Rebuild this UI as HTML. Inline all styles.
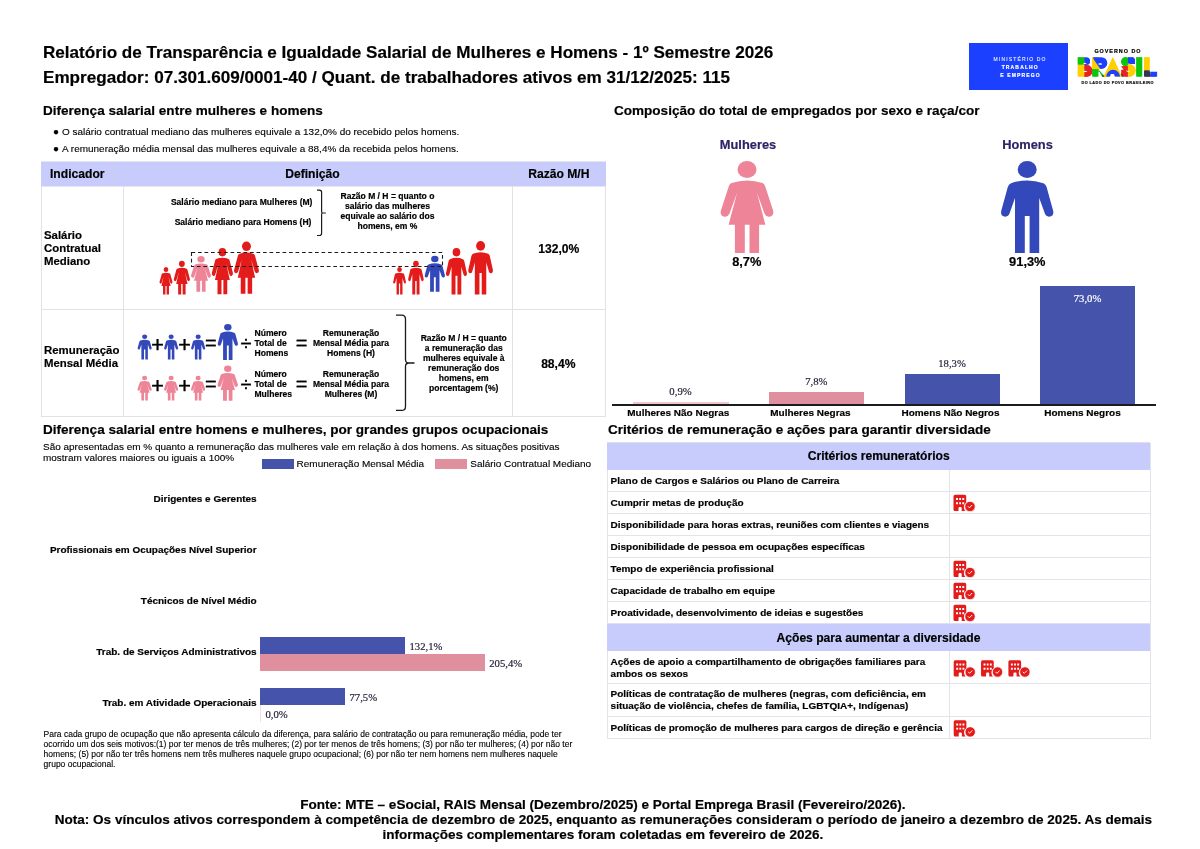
<!DOCTYPE html>
<html lang="pt-BR">
<head>
<meta charset="utf-8">
<title>Relatório de Transparência e Igualdade Salarial</title>
<style>
html,body{margin:0;padding:0;background:#fff}
#pg{position:relative;width:1200px;height:849px;overflow:hidden;background:#fff;font-family:"Liberation Sans",Arial,sans-serif;color:#000}
.t{position:absolute;white-space:nowrap;line-height:1;margin:0;padding:0}
.b{font-weight:700;-webkit-text-stroke:0.18px currentColor}.r{font-weight:400;-webkit-text-stroke:0.12px currentColor}
.f{font-family:"Liberation Serif","Times New Roman",serif;font-weight:400}
.bx{position:absolute}
#ov{position:absolute;left:0;top:0;width:1200px;height:849px;overflow:visible}
</style>
</head>
<body>
<div id="pg">
<div class="t b" style="left:43.00px;top:44.01px;font-size:17.10px">Relatório de Transparência e Igualdade Salarial de Mulheres e Homens - 1º Semestre 2026</div>
<div class="t b" style="left:43.00px;top:68.51px;font-size:17.10px">Empregador: 07.301.609/0001-40 / Quant. de trabalhadores ativos em 31/12/2025: 115</div>
<div class="t b" style="left:43.00px;top:104.01px;font-size:13.54px">Diferença salarial entre mulheres e homens</div>
<div class="t b" style="left:614.00px;top:104.01px;font-size:13.54px">Composição do total de empregados por sexo e raça/cor</div>
<div class="t r bl" style="left:53.00px;top:127.30px;font-size:9.97px">●</div>
<div class="t r" style="left:62.00px;top:127.30px;font-size:9.97px">O salário contratual mediano das mulheres equivale a 132,0% do recebido pelos homens.</div>
<div class="t r bl" style="left:53.00px;top:143.80px;font-size:9.97px">●</div>
<div class="t r" style="left:62.00px;top:143.80px;font-size:9.97px">A remuneração média mensal das mulheres equivale a 88,4% da recebida pelos homens.</div>
<div class="bx" style="left:41.00px;top:161.00px;width:565.00px;height:25.50px;background:#e6e6ee;"></div>
<div class="bx" style="left:41.00px;top:161.60px;width:565.00px;height:24.40px;background:#c7ccfc;"></div>
<div class="bx" style="left:112.20px;top:161.60px;width:1.00px;height:24.40px;background:#cbcee9;"></div>
<div class="bx" style="left:512.00px;top:161.60px;width:1.00px;height:24.40px;background:#cbcee9;"></div>
<div class="bx" style="left:41.00px;top:186.00px;width:1.00px;height:230.50px;background:#e2e2e2;"></div>
<div class="bx" style="left:123.00px;top:186.00px;width:1.00px;height:230.50px;background:#e2e2e2;"></div>
<div class="bx" style="left:512.00px;top:186.00px;width:1.00px;height:230.50px;background:#e2e2e2;"></div>
<div class="bx" style="left:605.00px;top:186.00px;width:1.00px;height:230.50px;background:#e2e2e2;"></div>
<div class="bx" style="left:41.00px;top:309.00px;width:565.00px;height:1.00px;background:#e2e2e2;"></div>
<div class="bx" style="left:41.00px;top:416.00px;width:565.00px;height:1.00px;background:#e2e2e2;"></div>
<div class="t b" style="left:50.00px;top:167.80px;font-size:12.11px">Indicador</div>
<div class="t b" style="left:285.24px;top:167.80px;font-size:12.11px">Definição</div>
<div class="t b" style="left:528.18px;top:167.80px;font-size:12.11px">Razão M/H</div>
<div class="t b" style="left:44.00px;top:230.31px;font-size:11.40px">Salário</div>
<div class="t b" style="left:44.00px;top:243.31px;font-size:11.40px">Contratual</div>
<div class="t b" style="left:44.00px;top:256.31px;font-size:11.40px">Mediano</div>
<div class="t b" style="left:44.00px;top:345.31px;font-size:11.40px">Remuneração</div>
<div class="t b" style="left:44.00px;top:358.31px;font-size:11.40px">Mensal Média</div>
<div class="t b" style="left:538.26px;top:243.00px;font-size:12.11px">132,0%</div>
<div class="t b" style="left:541.13px;top:358.00px;font-size:12.11px">88,4%</div>
<div class="t b" style="left:170.92px;top:198.01px;font-size:8.55px">Salário mediano para Mulheres (M)</div>
<div class="t b" style="left:174.67px;top:218.01px;font-size:8.55px">Salário mediano para Homens (H)</div>
<div class="t b" style="left:340.59px;top:192.32px;font-size:8.55px">Razão M / H = quanto o</div>
<div class="t b" style="left:344.97px;top:202.32px;font-size:8.55px">salário das mulheres</div>
<div class="t b" style="left:340.46px;top:212.32px;font-size:8.55px">equivale ao salário dos</div>
<div class="t b" style="left:357.57px;top:222.32px;font-size:8.55px">homens, em %</div>
<div class="t b" style="left:254.50px;top:329.21px;font-size:8.55px">Número</div>
<div class="t b" style="left:254.50px;top:339.10px;font-size:8.55px">Total de</div>
<div class="t b" style="left:254.50px;top:349.01px;font-size:8.55px">Homens</div>
<div class="t b" style="left:254.50px;top:370.41px;font-size:8.55px">Número</div>
<div class="t b" style="left:254.50px;top:380.32px;font-size:8.55px">Total de</div>
<div class="t b" style="left:254.50px;top:390.21px;font-size:8.55px">Mulheres</div>
<div class="t b" style="left:322.73px;top:329.21px;font-size:8.55px">Remuneração</div>
<div class="t b" style="left:312.99px;top:339.10px;font-size:8.55px">Mensal Média para</div>
<div class="t b" style="left:327.01px;top:349.01px;font-size:8.55px">Homens (H)</div>
<div class="t b" style="left:322.73px;top:370.41px;font-size:8.55px">Remuneração</div>
<div class="t b" style="left:312.99px;top:380.32px;font-size:8.55px">Mensal Média para</div>
<div class="t b" style="left:324.64px;top:390.21px;font-size:8.55px">Mulheres (M)</div>
<div class="t b" style="left:420.64px;top:334.41px;font-size:8.55px">Razão M / H = quanto</div>
<div class="t b" style="left:424.78px;top:344.29px;font-size:8.55px">a remuneração das</div>
<div class="t b" style="left:422.88px;top:354.15px;font-size:8.55px">mulheres equivale à</div>
<div class="t b" style="left:428.11px;top:364.02px;font-size:8.55px">remuneração dos</div>
<div class="t b" style="left:438.81px;top:373.90px;font-size:8.55px">homens, em</div>
<div class="t b" style="left:429.07px;top:383.76px;font-size:8.55px">porcentagem (%)</div>
<div class="t r" style="left:151.29px;top:333.91px;font-size:21.60px;-webkit-text-stroke:0.40px #000">+</div>
<div class="t r" style="left:178.29px;top:333.91px;font-size:21.60px;-webkit-text-stroke:0.40px #000">+</div>
<div class="t r" style="left:204.96px;top:332.90px;font-size:20.00px;-webkit-text-stroke:0.35px #000">=</div>
<div class="t r" style="left:240.51px;top:333.01px;font-size:20.00px;-webkit-text-stroke:0.35px #000">÷</div>
<div class="t r" style="left:295.76px;top:332.90px;font-size:20.00px;-webkit-text-stroke:0.35px #000">=</div>
<div class="t r" style="left:151.29px;top:375.00px;font-size:21.60px;-webkit-text-stroke:0.40px #000">+</div>
<div class="t r" style="left:178.29px;top:375.00px;font-size:21.60px;-webkit-text-stroke:0.40px #000">+</div>
<div class="t r" style="left:204.96px;top:374.01px;font-size:20.00px;-webkit-text-stroke:0.35px #000">=</div>
<div class="t r" style="left:240.51px;top:374.11px;font-size:20.00px;-webkit-text-stroke:0.35px #000">÷</div>
<div class="t r" style="left:295.76px;top:374.01px;font-size:20.00px;-webkit-text-stroke:0.35px #000">=</div>
<div class="t b" style="left:43.00px;top:423.01px;font-size:13.54px">Diferença salarial entre homens e mulheres, por grandes grupos ocupacionais</div>
<div class="t r" style="left:43.00px;top:442.01px;font-size:9.97px">São apresentadas em % quanto a remuneração das mulheres vale em relação à dos homens. As situações positivas</div>
<div class="t r" style="left:43.00px;top:453.01px;font-size:9.97px">mostram valores maiores ou iguais a 100%</div>
<div class="bx" style="left:261.50px;top:458.50px;width:32.50px;height:10.50px;background:#4553ab;"></div>
<div class="bx" style="left:435.00px;top:458.50px;width:31.60px;height:10.50px;background:#e08f9e;"></div>
<div class="t r" style="left:296.60px;top:459.30px;font-size:9.97px">Remuneração Mensal Média</div>
<div class="t r" style="left:470.30px;top:459.30px;font-size:9.97px">Salário Contratual Mediano</div>
<div class="t b" style="left:153.58px;top:494.01px;font-size:9.97px">Dirigentes e Gerentes</div>
<div class="t b" style="left:49.92px;top:545.01px;font-size:9.97px">Profissionais em Ocupações Nível Superior</div>
<div class="t b" style="left:140.85px;top:596.01px;font-size:9.97px">Técnicos de Nível Médio</div>
<div class="t b" style="left:96.31px;top:647.01px;font-size:9.97px">Trab. de Serviços Administrativos</div>
<div class="t b" style="left:102.40px;top:698.01px;font-size:9.97px">Trab. em Atividade Operacionais</div>
<div class="bx" style="left:260.00px;top:637.00px;width:144.50px;height:17.25px;background:#4553ab;"></div>
<div class="bx" style="left:260.00px;top:654.25px;width:224.50px;height:17.00px;background:#e08f9e;"></div>
<div class="bx" style="left:260.00px;top:688.25px;width:84.50px;height:16.75px;background:#4553ab;"></div>
<div class="bx" style="left:259.60px;top:705.00px;width:0.80px;height:17.00px;background:#f3dfe3;"></div>
<div class="t f" style="left:409.50px;top:641.00px;font-size:10.69px;color:#28233c;-webkit-text-stroke:0.2px #28233c">132,1%</div>
<div class="t f" style="left:489.25px;top:658.00px;font-size:10.69px;color:#28233c;-webkit-text-stroke:0.2px #28233c">205,4%</div>
<div class="t f" style="left:349.50px;top:691.75px;font-size:10.69px;color:#28233c;-webkit-text-stroke:0.2px #28233c">77,5%</div>
<div class="t f" style="left:265.50px;top:709.00px;font-size:10.69px;color:#28233c;-webkit-text-stroke:0.2px #28233c">0,0%</div>
<div class="t r" style="left:43.60px;top:730.31px;font-size:8.50px">Para cada grupo de ocupação que não apresenta cálculo da diferença, para salário de contratação ou para remuneração média, pode ter</div>
<div class="t r" style="left:43.60px;top:740.06px;font-size:8.50px">ocorrido um dos seis motivos:(1) por ter menos de três mulheres; (2) por ter menos de três homens; (3) por não ter mulheres; (4) por não ter</div>
<div class="t r" style="left:43.60px;top:749.81px;font-size:8.50px">homens; (5) por não ter três homens nem três mulheres naquele grupo ocupacional; (6) por não ter nem homens nem mulheres naquele</div>
<div class="t r" style="left:43.60px;top:759.56px;font-size:8.50px">grupo ocupacional.</div>
<div class="t b" style="left:719.85px;top:139.31px;font-size:12.83px;color:#2b2466">Mulheres</div>
<div class="t b" style="left:1002.20px;top:139.31px;font-size:12.83px;color:#2b2466">Homens</div>
<div class="t b" style="left:732.18px;top:256.02px;font-size:12.83px">8,7%</div>
<div class="t b" style="left:1009.12px;top:256.02px;font-size:12.83px">91,3%</div>
<div class="bx" style="left:632.50px;top:402.40px;width:96.00px;height:2.10px;background:#f4c3cb;"></div>
<div class="bx" style="left:769.00px;top:391.70px;width:95.00px;height:12.80px;background:#e08f9e;"></div>
<div class="bx" style="left:904.50px;top:374.40px;width:95.50px;height:30.10px;background:#4553ab;"></div>
<div class="bx" style="left:1040.30px;top:286.30px;width:95.00px;height:118.20px;background:#4553ab;"></div>
<div class="bx" style="left:612.00px;top:404.40px;width:543.60px;height:2.00px;background:#1c1c1c;"></div>
<div class="t f" style="left:669.37px;top:385.70px;font-size:10.69px;color:#28233c;-webkit-text-stroke:0.2px #28233c">0,9%</div>
<div class="t f" style="left:805.17px;top:375.50px;font-size:10.69px;color:#28233c;-webkit-text-stroke:0.2px #28233c">7,8%</div>
<div class="t f" style="left:938.20px;top:357.81px;font-size:10.69px;color:#28233c;-webkit-text-stroke:0.2px #28233c">18,3%</div>
<div class="t f" style="left:1073.70px;top:292.50px;font-size:10.69px;color:#fff;-webkit-text-stroke:0.2px #fff">73,0%</div>
<div class="t b" style="left:627.30px;top:407.51px;font-size:9.97px">Mulheres Não Negras</div>
<div class="t b" style="left:770.31px;top:407.51px;font-size:9.97px">Mulheres Negras</div>
<div class="t b" style="left:901.45px;top:407.51px;font-size:9.97px">Homens Não Negros</div>
<div class="t b" style="left:1044.25px;top:407.51px;font-size:9.97px">Homens Negros</div>
<div class="t b" style="left:608.00px;top:423.01px;font-size:13.54px">Critérios de remuneração e ações para garantir diversidade</div>
<div class="bx" style="left:607.00px;top:491.00px;width:543.00px;height:1.00px;background:#e3e3ea;"></div>
<div class="bx" style="left:607.00px;top:513.00px;width:543.00px;height:1.00px;background:#e3e3ea;"></div>
<div class="bx" style="left:607.00px;top:535.00px;width:543.00px;height:1.00px;background:#e3e3ea;"></div>
<div class="bx" style="left:607.00px;top:557.00px;width:543.00px;height:1.00px;background:#e3e3ea;"></div>
<div class="bx" style="left:607.00px;top:579.00px;width:543.00px;height:1.00px;background:#e3e3ea;"></div>
<div class="bx" style="left:607.00px;top:601.00px;width:543.00px;height:1.00px;background:#e3e3ea;"></div>
<div class="bx" style="left:607.00px;top:683.30px;width:543.00px;height:1.00px;background:#e3e3ea;"></div>
<div class="bx" style="left:607.00px;top:715.80px;width:543.00px;height:1.00px;background:#e3e3ea;"></div>
<div class="bx" style="left:607.00px;top:737.80px;width:543.00px;height:1.00px;background:#e3e3ea;"></div>
<div class="bx" style="left:606.70px;top:442.50px;width:1.00px;height:296.30px;background:#e3e3ea;"></div>
<div class="bx" style="left:1149.50px;top:442.50px;width:1.00px;height:296.30px;background:#e3e3ea;"></div>
<div class="bx" style="left:948.50px;top:470.00px;width:1.00px;height:153.50px;background:#e3e3ea;"></div>
<div class="bx" style="left:948.50px;top:651.00px;width:1.00px;height:87.50px;background:#e3e3ea;"></div>
<div class="bx" style="left:607.00px;top:442.20px;width:543.30px;height:27.80px;background:#dfe0ee;"></div>
<div class="bx" style="left:607.20px;top:442.60px;width:543.00px;height:27.20px;background:#c7ccfc;"></div>
<div class="bx" style="left:607.00px;top:623.30px;width:543.30px;height:27.70px;background:#dfe0ee;"></div>
<div class="bx" style="left:607.20px;top:623.70px;width:543.00px;height:27.10px;background:#c7ccfc;"></div>
<div class="t b" style="left:807.69px;top:450.00px;font-size:12.11px">Critérios remuneratórios</div>
<div class="t b" style="left:776.51px;top:632.00px;font-size:12.11px">Ações para aumentar a diversidade</div>
<div class="t b" style="left:610.60px;top:476.01px;font-size:9.97px">Plano de Cargos e Salários ou Plano de Carreira</div>
<div class="t b" style="left:610.60px;top:498.01px;font-size:9.97px">Cumprir metas de produção</div>
<div class="t b" style="left:610.60px;top:520.01px;font-size:9.97px">Disponibilidade para horas extras, reuniões com clientes e viagens</div>
<div class="t b" style="left:610.60px;top:542.01px;font-size:9.97px">Disponibilidade de pessoa em ocupações específicas</div>
<div class="t b" style="left:610.60px;top:564.01px;font-size:9.97px">Tempo de experiência profissional</div>
<div class="t b" style="left:610.60px;top:586.01px;font-size:9.97px">Capacidade de trabalho em equipe</div>
<div class="t b" style="left:610.60px;top:608.01px;font-size:9.97px">Proatividade, desenvolvimento de ideias e sugestões</div>
<div class="t b" style="left:610.60px;top:657.21px;font-size:9.97px">Ações de apoio a compartilhamento de obrigações familiares para</div>
<div class="t b" style="left:610.60px;top:668.80px;font-size:9.97px">ambos os sexos</div>
<div class="t b" style="left:610.60px;top:689.40px;font-size:9.97px">Políticas de contratação de mulheres (negras, com deficiência, em</div>
<div class="t b" style="left:610.60px;top:701.30px;font-size:9.97px">situação de violência, chefes de família, LGBTQIA+, Indígenas)</div>
<div class="t b" style="left:610.60px;top:723.01px;font-size:9.97px">Políticas de promoção de mulheres para cargos de direção e gerência</div>
<div class="t b" style="left:300.18px;top:797.51px;font-size:13.54px">Fonte: MTE – eSocial, RAIS Mensal (Dezembro/2025) e Portal Emprega Brasil (Fevereiro/2026).</div>
<div class="t b" style="left:54.75px;top:813.01px;font-size:13.54px">Nota: Os vínculos ativos correspondem à competência de dezembro de 2025, enquanto as remunerações consideram o período de janeiro a dezembro de 2025. As demais</div>
<div class="t b" style="left:382.54px;top:827.51px;font-size:13.54px">informações complementares foram coletadas em fevereiro de 2026.</div>
<div class="bx" style="left:969.25px;top:42.75px;width:98.65px;height:46.85px;background:#1b40ff;"></div>
<div class="t r" style="left:993.57px;top:57.20px;font-size:5.00px;color:#e8ecff;letter-spacing:1.15px">MINISTÉRIO DO</div>
<div class="t b" style="left:1001.65px;top:65.00px;font-size:5.00px;color:#fff;letter-spacing:1.15px">TRABALHO</div>
<div class="t b" style="left:1000.16px;top:73.00px;font-size:5.00px;color:#fff;letter-spacing:1.15px">E EMPREGO</div>
<div class="t b" style="left:1094.40px;top:49.20px;font-size:5.40px;color:#000;letter-spacing:1.00px;-webkit-text-stroke:0.2px #000">GOVERNO DO</div>
<div class="t b" style="left:1081.47px;top:82.31px;font-size:3.80px;color:#111;letter-spacing:0.45px">DO LADO DO POVO BRASILEIRO</div>
<svg id="ov" viewBox="0 0 1200 849" width="1200" height="849">
<defs>
<pattern id="brp" patternUnits="userSpaceOnUse" x="0" y="0" width="1200" height="849" patternTransform="scale(1.25 1) translate(-1077.3 -76.65)">
<rect x="1077.63" y="57.13" width="6.98" height="7.65" fill="#0cc50c"/>
<rect x="1077.63" y="64.78" width="6.98" height="11.85" fill="#ffcf00"/>
<path d="M1084.38 57.13 h1.69 a3.94 3.94 0 0 1 0 7.88 h-1.69 z" fill="#1b40ff"/>
<path d="M1084.38 65.00 h2.51 a5.81 5.81 0 0 1 0 11.63 h-2.51 z" fill="#e52421"/>
<rect x="1092.25" y="57.13" width="6.75" height="12.00" fill="#ffcf00"/>
<path d="M1093.23 57.13 h8.21 a5.81 5.81 0 0 1 0 11.63 h-8.21 z" fill="#1b40ff"/>
<polygon points="1092.25,57.28 1092.25,69.13 1100.50,69.13" fill="#ffcf00"/>
<rect x="1092.25" y="69.13" width="6.00" height="7.50" fill="#0cc50c"/>
<polygon points="1098.25,69.13 1105.00,76.63 1098.25,76.63" fill="#0cc50c"/>
<polygon points="1102.38,74.75 1105.00,76.63 1102.38,76.63" fill="#33384a"/>
<polygon points="1112.88,57.35 1122.10,76.63 1103.65,76.63" fill="#ffcf00"/>
<circle cx="1113.10" cy="76.85" r="6.98" fill="#1b40ff" clip-path="url(#clipA)"/>
<circle cx="1125.40" cy="61.48" r="4.50" fill="#0cc50c"/>
<rect x="1127.88" y="57.13" width="7.13" height="6.90" fill="#1b40ff"/>
<rect x="1121.13" y="66.13" width="6.98" height="10.50" fill="#e52421"/>
<polygon points="1121.13,73.25 1123.75,76.63 1121.13,76.63" fill="#33384a"/>
<path d="M1127.88 64.03 h1.58 a6.30 6.30 0 0 1 0 12.60 h-1.58 z" fill="#ffcf00"/>
<rect x="1136.13" y="57.13" width="6.75" height="19.50" fill="#0cc50c"/>
<rect x="1144.00" y="57.13" width="6.38" height="13.28" fill="#ffcf00"/>
<rect x="1144.00" y="70.40" width="6.38" height="6.23" fill="#33384a"/>
<rect x="1150.38" y="70.40" width="6.75" height="6.23" fill="#1b40ff"/>
</pattern>
<clipPath id="clipA"><rect x="1077" y="57" width="80" height="19.62"/></clipPath>
<clipPath id="clipR"><rect x="1092.2" y="57.1" width="16" height="12.1"/></clipPath>
<g id="w" stroke="none">
<ellipse cx="47" cy="19.1" rx="9.5" ry="8.4"/>
<path d="M31.5 32.6 Q47 27.4 62.5 32.6 Q64.4 33.6 65 35.4 L73.1 60.2 Q74.2 64.6 70.4 66.2 Q66.4 67.4 64.6 63.4 L56.9 42.4 L65.4 74.4 H59.1 V102.8 H49.5 V74.4 H44.8 V102.8 H34.9 V74.4 H28.6 L37.1 42.4 L29.4 63.4 Q27.6 67.4 23.6 66.2 Q19.8 64.6 20.9 60.2 L29 35.4 Q29.6 33.6 31.5 32.6 Z"/>
</g>
<g id="m" stroke="none">
<ellipse cx="47.2" cy="19.1" rx="9.5" ry="8.4"/>
<path d="M31 32.8 Q47.2 27.2 63.4 32.8 Q65.8 34 66.6 36.6 L73.2 60.6 Q74 65 70.2 66.2 Q66.2 67 64.8 63 L59.2 47.6 V102.8 H49.6 V65.7 H44.8 V102.8 H35 V47.6 L29.6 63 Q28.2 67 24.2 66.2 Q20.4 65 21.2 60.6 L27.8 36.6 Q28.6 34 31 32.8 Z"/>
</g>
<g id="bld">
<path d="M1.5 0 H11.2 Q12.7 0 12.7 1.5 V8.2 Q9.6 10.2 10.6 14 Q11 15.4 11.9 16.2 H8.2 V13.4 Q8.2 12.3 7.1 12.3 H6.1 Q5 12.3 5 13.4 V16.2 H1.5 Q0 16.2 0 14.7 V1.5 Q0 0 1.5 0 Z M2.5 3.3 V5.2 H4.45 V3.3 Z M5.7 3.3 V5.2 H7.5 V3.3 Z M8.8 3.3 V5.2 H10.7 V3.3 Z M2.5 7.45 V9.4 H4.45 V7.45 Z M5.7 7.45 V9.4 H7.5 V7.45 Z M8.8 7.45 V9.4 H10.7 V7.45 Z" fill="#e31b1b" fill-rule="evenodd"/>
<circle cx="16.5" cy="11.7" r="5.2" fill="#e31b1b" stroke="#fff" stroke-width="0.8"/>
<path d="M14.7 11.8 L15.9 13 L18.3 10.5" fill="none" stroke="#fff" stroke-width="0.95" stroke-linecap="round" stroke-linejoin="round"/>
</g>
</defs>
<use href="#w" fill="#e31b1b" stroke="#e31b1b" transform="translate(159.50 267.00) scale(0.2462 0.2986) translate(-20.6 -10.7)"/>
<use href="#w" fill="#e31b1b" stroke="#e31b1b" transform="translate(173.75 260.75) scale(0.3078 0.3664) translate(-20.6 -10.7)"/>
<use href="#w" fill="#ee8497" stroke="#ee8497" transform="translate(191.00 256.00) scale(0.3788 0.3882) translate(-20.6 -10.7)"/>
<use href="#w" fill="#e31b1b" stroke="#e31b1b" transform="translate(211.75 248.00) scale(0.4025 0.5016) translate(-20.6 -10.7)"/>
<use href="#w" fill="#e31b1b" stroke="#e31b1b" transform="translate(234.00 241.60) scale(0.4716 0.5668) translate(-20.6 -10.7)"/>
<use href="#m" fill="#e31b1b" stroke="#e31b1b" transform="translate(393.00 267.00) scale(0.2462 0.2986) translate(-20.6 -10.7)"/>
<use href="#m" fill="#e31b1b" stroke="#e31b1b" transform="translate(408.00 260.75) scale(0.2983 0.3664) translate(-20.6 -10.7)"/>
<use href="#m" fill="#3349bb" stroke="#3349bb" transform="translate(424.50 255.75) scale(0.3883 0.3909) translate(-20.6 -10.7)"/>
<use href="#m" fill="#e31b1b" stroke="#e31b1b" transform="translate(445.75 248.00) scale(0.4025 0.5049) translate(-20.6 -10.7)"/>
<use href="#m" fill="#e31b1b" stroke="#e31b1b" transform="translate(468.00 241.00) scale(0.4735 0.5809) translate(-20.6 -10.7)"/>
<rect x="191.5" y="252.5" width="251" height="14" fill="none" stroke="#1c1c1c" stroke-width="1.1" stroke-dasharray="3.7 2.8"/>
<use href="#m" fill="#3349bb" stroke="#3349bb" transform="translate(137.50 334.50) scale(0.2689 0.2714) translate(-20.6 -10.7)"/>
<use href="#w" fill="#ee8497" stroke="#ee8497" transform="translate(137.50 375.75) scale(0.2689 0.2687) translate(-20.6 -10.7)"/>
<use href="#m" fill="#3349bb" stroke="#3349bb" transform="translate(164.00 334.50) scale(0.2689 0.2714) translate(-20.6 -10.7)"/>
<use href="#w" fill="#ee8497" stroke="#ee8497" transform="translate(164.00 375.75) scale(0.2689 0.2687) translate(-20.6 -10.7)"/>
<use href="#m" fill="#3349bb" stroke="#3349bb" transform="translate(191.00 334.50) scale(0.2689 0.2714) translate(-20.6 -10.7)"/>
<use href="#w" fill="#ee8497" stroke="#ee8497" transform="translate(191.00 375.75) scale(0.2689 0.2687) translate(-20.6 -10.7)"/>
<use href="#m" fill="#3349bb" stroke="#3349bb" transform="translate(217.50 324.00) scale(0.3883 0.3909) translate(-20.6 -10.7)"/>
<use href="#w" fill="#ee8497" stroke="#ee8497" transform="translate(217.50 365.50) scale(0.3883 0.3827) translate(-20.6 -10.7)"/>
<path d="M317 190.1 H319.4 Q321.6 190.1 321.6 192.3 V211.8 Q321.6 213 322.8 213 H325.8 M322.8 213 Q321.6 213 321.6 214.2 V233.3 Q321.6 235.5 319.4 235.5 H317" fill="none" stroke="#1a1a1a" stroke-width="1.2"/>
<path d="M396 315.2 H401.5 Q405.5 315.2 405.5 319.2 V359.5 Q405.5 363 409 363 H414.5 M409 363 Q405.5 363 405.5 366.5 V406.4 Q405.5 410.4 401.5 410.4 H396" fill="none" stroke="#1a1a1a" stroke-width="1.3"/>
<use href="#w" fill="#ee8497" stroke="#ee8497" transform="translate(720.60 161.10) scale(1.0000 0.9989) translate(-20.6 -10.7)"/>
<use href="#m" fill="#3349bb" stroke="#3349bb" transform="translate(1000.60 161.10) scale(1.0000 0.9989) translate(-20.6 -10.7)"/>
<use href="#bld" x="953.50" y="494.80"/>
<use href="#bld" x="953.50" y="560.80"/>
<use href="#bld" x="953.50" y="582.80"/>
<use href="#bld" x="953.50" y="604.80"/>
<use href="#bld" x="953.70" y="660.30"/>
<use href="#bld" x="981.05" y="660.30"/>
<use href="#bld" x="1008.40" y="660.30"/>
<use href="#bld" x="953.70" y="720.20"/>
<text transform="translate(1077.3 76.65) scale(0.800 1)" x="0.00 18.63 34.12 54.50 73.25 82.87" y="0" font-family="Liberation Sans, Arial, sans-serif" font-weight="700" font-size="27.40" fill="url(#brp)" stroke="url(#brp)" stroke-width="4.2" stroke-linejoin="miter">BRASIL</text>
</svg>
</div>
</body>
</html>
